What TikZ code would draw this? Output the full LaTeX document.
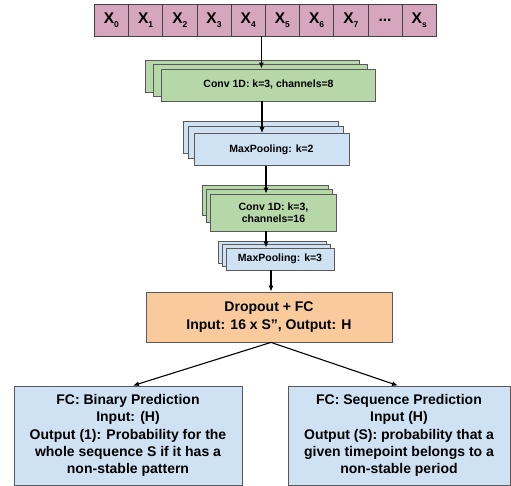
\documentclass[tikz,border=0pt]{standalone}
\usepackage{fontspec}
\setmainfont{Liberation Sans}
\usetikzlibrary{arrows.meta}
\definecolor{pinkc}{HTML}{D5A6BD}
\definecolor{greenc}{HTML}{B6D7A8}
\definecolor{bluec}{HTML}{CFE2F3}
\definecolor{orangec}{HTML}{F9CB9C}
\definecolor{bordc}{HTML}{595959}
\definecolor{cellbord}{HTML}{434343}
\newcommand{\xsub}[2]{X\raisebox{-3.5pt}{\fontsize{8.5}{8.5}\selectfont #2}}
\begin{document}
\begin{tikzpicture}[x=1pt,y=-1pt,
  box/.style={draw=bordc,line width=0.8pt,inner sep=0pt,align=center,font=\bfseries},
  cell/.style={box,draw=cellbord,fill=pinkc,minimum width=34.2pt,minimum height=32pt,font=\bfseries\fontsize{15.5}{17}\selectfont},
  smalltxt/.style={font=\bfseries\fontsize{10.5}{12.5}\selectfont},
  bigtxt/.style={font=\bfseries\fontsize{14}{17.4}\selectfont},
  arr/.style={draw=black,line width=1.1pt,-{Latex[length=6pt,width=5pt]}}]
\useasboundingbox (0,0) rectangle (511,486);
% input sequence
\node[cell] (x0) at (111.4,20) {\xsub{X}{0}};
\node[cell] (x1) at (145.6,20) {\xsub{X}{1}};
\node[cell] (x2) at (179.8,20) {\xsub{X}{2}};
\node[cell] (x3) at (214.0,20) {\xsub{X}{3}};
\node[cell] (x4) at (248.2,20) {\xsub{X}{4}};
\node[cell] (x5) at (282.4,20) {\xsub{X}{5}};
\node[cell] (x6) at (316.6,20) {\xsub{X}{6}};
\node[cell] (x7) at (350.8,20) {\xsub{X}{7}};
\node[cell] (xd) at (385.0,20) {...};
\node[cell] (xs) at (419.2,20) {\xsub{X}{s}};
% Conv 1D channels=8
\node[box,fill=greenc,minimum width=214pt,minimum height=32pt] (c8b) at (252,76.5) {};
\node[box,fill=greenc,minimum width=214pt,minimum height=32pt] (c8m) at (260,80.5) {};
\node[box,fill=greenc,minimum width=214pt,minimum height=32pt,smalltxt] (c8) at (268.5,85) {Conv 1D: k=3, channels=8};
% MaxPooling k=2
\node[box,fill=bluec,minimum width=155pt,minimum height=32pt] (mp2b) at (260.5,137) {};
\node[box,fill=bluec,minimum width=155pt,minimum height=32pt] (mp2m) at (265.5,142.5) {};
\node[box,fill=bluec,minimum width=155pt,minimum height=32pt,smalltxt] (mp2) at (271.5,149.5) {MaxPooling: k=2};
% Conv 1D channels=16
\node[box,fill=greenc,minimum width=126pt,minimum height=30pt] (c16b) at (265,200) {};
\node[box,fill=greenc,minimum width=126pt,minimum height=32.5pt] (c16m) at (269,205.75) {};
\node[box,fill=greenc,minimum width=126pt,minimum height=37pt,smalltxt] (c16) at (273.5,212.5) {Conv 1D: k=3,\\channels=16};
% MaxPooling k=3
\node[box,fill=bluec,minimum width=108pt,minimum height=22pt] (mp3b) at (272,252) {};
\node[box,fill=bluec,minimum width=108pt,minimum height=22pt] (mp3m) at (276,255.5) {};
\node[box,fill=bluec,minimum width=108pt,minimum height=22pt,smalltxt] (mp3) at (280,259) {MaxPooling: k=3};
% Dropout + FC
\node[box,fill=orangec,minimum width=246pt,minimum height=50pt,bigtxt] (drop) at (269,317) {Dropout + FC\\Input: 16 x S”, Output: H};
% outputs
\node[box,fill=bluec,minimum width=228pt,minimum height=99pt,bigtxt] (bin) at (128,435.5) {FC: Binary Prediction\\Input: (H)\\Output (1): Probability for the\\whole sequence S if it has a\\non-stable pattern};
\node[box,fill=bluec,minimum width=222pt,minimum height=99pt,bigtxt] (seq) at (399,435.5) {FC: Sequence Prediction\\Input (H)\\Output (S): probability that a\\given timepoint belongs to a\\non-stable period};
% connectors
\draw[arr] ([xshift=-4.3pt]x4.south east) -- ([xshift=-4.3pt]x4.south east |- c8.north);
\draw[arr] ([xshift=-6.5pt]c8.south) -- ([xshift=-6.5pt]c8.south |- mp2.north);
\draw[arr] ([xshift=-5.5pt]mp2.south) -- ([xshift=-5.5pt]mp2.south |- c16.north);
\draw[arr] ([xshift=-7.5pt]c16.south) -- ([xshift=-7.5pt]c16.south |- mp3.north);
\draw[arr] ([xshift=-9pt]mp3.south) -- ([xshift=-9pt]mp3.south |- drop.north);
\draw[arr] ([xshift=2pt]drop.south) -- ([xshift=5pt]bin.north);
\draw[arr] ([xshift=2pt]drop.south) -- ([xshift=-1pt]seq.north);
\end{tikzpicture}
\end{document}
